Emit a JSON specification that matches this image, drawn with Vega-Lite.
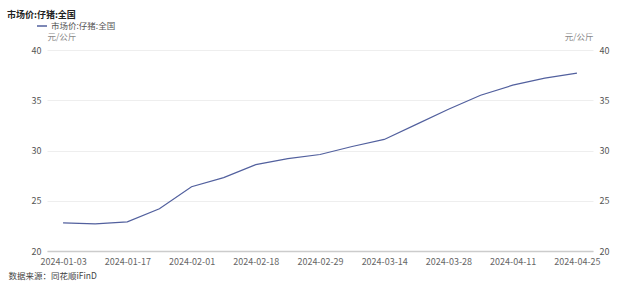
{
  "$schema": "https://vega.github.io/schema/vega-lite/v6.json",
  "autosize": {"type": "none"},
  "padding": {"left": 47, "top": 50, "right": 47, "bottom": 38},
  "width": 546,
  "height": 201,
  "background": "white",
  "config": {
    "font": "Noto Sans CJK SC",
    "view": {"stroke": null}
  },
  "title": {
    "text": "市场价:仔猪:全国",
    "anchor": "start",
    "frame": "group",
    "dx": -40,
    "dy": 4,
    "fontSize": 9,
    "fontWeight": "bold",
    "color": "#222",
    "offset": 4
  },
  "data": {
    "values": [
      {"date": "2024-01-03", "price": 22.8, "series": "市场价:仔猪:全国"},
      {"date": "2024-01-10", "price": 22.7, "series": "市场价:仔猪:全国"},
      {"date": "2024-01-17", "price": 22.9, "series": "市场价:仔猪:全国"},
      {"date": "2024-01-24", "price": 24.2, "series": "市场价:仔猪:全国"},
      {"date": "2024-02-01", "price": 26.4, "series": "市场价:仔猪:全国"},
      {"date": "2024-02-08", "price": 27.3, "series": "市场价:仔猪:全国"},
      {"date": "2024-02-18", "price": 28.6, "series": "市场价:仔猪:全国"},
      {"date": "2024-02-22", "price": 29.2, "series": "市场价:仔猪:全国"},
      {"date": "2024-02-29", "price": 29.6, "series": "市场价:仔猪:全国"},
      {"date": "2024-03-07", "price": 30.4, "series": "市场价:仔猪:全国"},
      {"date": "2024-03-14", "price": 31.1, "series": "市场价:仔猪:全国"},
      {"date": "2024-03-21", "price": 32.6, "series": "市场价:仔猪:全国"},
      {"date": "2024-03-28", "price": 34.1, "series": "市场价:仔猪:全国"},
      {"date": "2024-04-03", "price": 35.5, "series": "市场价:仔猪:全国"},
      {"date": "2024-04-11", "price": 36.5, "series": "市场价:仔猪:全国"},
      {"date": "2024-04-18", "price": 37.2, "series": "市场价:仔猪:全国"},
      {"date": "2024-04-25", "price": 37.7, "series": "市场价:仔猪:全国"}
    ]
  },
  "encoding": {
    "x": {
      "field": "date",
      "type": "ordinal",
      "scale": {"type": "point", "padding": 0.5},
      "axis": {
        "values": ["2024-01-03", "2024-01-17", "2024-02-01", "2024-02-18", "2024-02-29", "2024-03-14", "2024-03-28", "2024-04-11", "2024-04-25"],
        "labelAngle": 0,
        "labelFontSize": 9,
        "labelColor": "#666",
        "labelPadding": 6,
        "ticks": false,
        "domainColor": "#ccc",
        "domainWidth": 1.5,
        "grid": false,
        "title": "数据来源：同花顺iFinD",
        "titleFontSize": 8.5,
        "titleFontWeight": "normal",
        "titleColor": "#444",
        "titleAnchor": "start",
        "titleAlign": "left",
        "titleX": -39,
        "titleY": 24,
        "titleBaseline": "middle"
      }
    },
    "y": {
      "field": "price",
      "type": "quantitative",
      "scale": {"domain": [20, 40], "nice": false, "zero": false}
    }
  },
  "layer": [
    {
      "mark": {"type": "line", "strokeWidth": 1.2},
      "encoding": {
        "y": {
          "field": "price",
          "type": "quantitative",
          "axis": {
            "orient": "left",
            "values": [20, 25, 30, 35, 40],
            "domain": false,
            "ticks": false,
            "labelFontSize": 9,
            "labelColor": "#555",
            "labelPadding": 6,
            "gridColor": "#eeeeee",
            "title": "元/公斤",
            "titleAngle": 0,
            "titleX": 0,
            "titleY": -14,
            "titleAlign": "left",
            "titleBaseline": "middle",
            "titleFontSize": 8.5,
            "titleFontWeight": "normal",
            "titleColor": "#888"
          }
        },
        "color": {
          "field": "series",
          "type": "nominal",
          "scale": {"range": ["#52609e"]},
          "legend": {
            "title": null,
            "orient": "none",
            "legendX": -11,
            "legendY": -30,
            "symbolType": "stroke",
            "symbolSize": 100,
            "symbolStrokeWidth": 1.5,
            "labelFontSize": 8.5,
            "labelColor": "#555",
            "labelOffset": 3
          }
        }
      }
    },
    {
      "mark": {"type": "line", "strokeOpacity": 0},
      "encoding": {
        "y": {
          "field": "price",
          "type": "quantitative",
          "axis": {
            "orient": "right",
            "values": [20, 25, 30, 35, 40],
            "domain": false,
            "ticks": false,
            "grid": false,
            "labelFontSize": 9,
            "labelColor": "#555",
            "labelPadding": 6,
            "title": "元/公斤",
            "titleAngle": 0,
            "titleX": 0,
            "titleY": -14,
            "titleAlign": "right",
            "titleBaseline": "middle",
            "titleFontSize": 8.5,
            "titleFontWeight": "normal",
            "titleColor": "#888"
          }
        }
      }
    }
  ],
  "resolve": {"axis": {"y": "independent"}}
}
